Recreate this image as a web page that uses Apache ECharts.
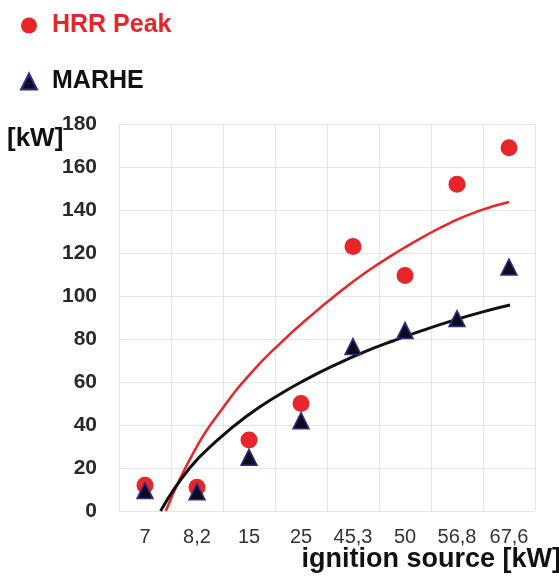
<!DOCTYPE html>
<html>
<head>
<meta charset="utf-8">
<script src="https://cdn.jsdelivr.net/npm/echarts@6/dist/echarts.min.js"></script>
<style>
  html, body { margin: 0; padding: 0; background: #ffffff; }
  #chart { width: 559px; height: 585px; }
</style>
</head>
<body>
<div id="chart"></div>
<script>
const FONT = "Liberation Sans";

// ignition source power [kW]
const categories = ["7", "8,2", "15", "25", "45,3", "50", "56,8", "67,6"];
const hrrPeak = [12, 11, 33, 50, 123, 109.5, 152, 169];
const marhe = [9.5, 9, 25, 42, 76.5, 84, 89.5, 113.5];

// trend curves, x = category position (1 = "7", 8 = "67,6")
const hrrTrendX = [1.40, 1.95, 2.50, 3.05, 3.60, 4.15, 4.70, 5.25, 5.80, 6.35, 6.90, 7.45, 8.00];
const hrrTrendY = [0, 28, 48, 64.5, 78, 90, 101, 111, 119.7, 127.5, 134.4, 139.8, 143.7];
const marheTrendX = [1.30, 1.86, 2.42, 2.98, 3.54, 4.10, 4.66, 5.22, 5.78, 6.34, 6.90, 7.46, 8.02];
const marheTrendY = [0, 20, 33.5, 44.5, 53.5, 61.2, 68, 74, 79.2, 84, 88.4, 92.4, 95.8];

const RED = "#e8262a";
const GRID = "#e3e5ef";

const chart = echarts.init(document.getElementById("chart"));

chart.setOption({
  animation: false,
  backgroundColor: "#ffffff",
  textStyle: { fontFamily: FONT },
  grid: { left: 119, right: 24, top: 124, bottom: 74 },
  legend: {
    orient: "vertical",
    left: 15,
    top: 8,
    itemGap: 31,
    itemWidth: 16,
    itemHeight: 16,
    textStyle: { fontFamily: FONT, fontSize: 25, fontWeight: "bold", padding: [0, 0, 0, 10] },
    data: [
      { name: "HRR Peak", icon: "circle", textStyle: { color: RED } },
      { name: "MARHE", icon: "triangle", textStyle: { color: "#111" } },
    ],
  },
  xAxis: [
    {
      type: "category",
      data: categories,
      boundaryGap: true,
      axisLine: { lineStyle: { color: GRID } },
      axisTick: { show: false },
      splitLine: { show: true, interval: 0, lineStyle: { color: GRID } },
      axisLabel: { fontFamily: FONT, fontSize: 20, color: "#333", margin: 16, interval: 0 },
    },
    {
      type: "value",
      min: 0.5,
      max: 8.5,
      show: false,
    },
  ],
  yAxis: {
    type: "value",
    min: 0,
    max: 180,
    interval: 20,
    axisLine: { show: true, lineStyle: { color: GRID } },
    axisTick: { show: false },
    splitLine: { lineStyle: { color: GRID } },
    axisLabel: { fontFamily: FONT, fontSize: 21, fontWeight: "bold", color: "#2a2a2a", margin: 22 },
  },
  graphic: [
    {
      type: "text",
      left: 7,
      top: 126,
      style: { text: "[kW]", font: "bold 26px " + FONT, fill: "#111" },
    },
    {
      type: "text",
      right: -2,
      top: 546,
      style: { text: "ignition source [kW]", font: "bold 27px " + FONT, fill: "#111" },
    },
  ],
  series: [
    {
      name: "HRR Peak trend",
      type: "line",
      xAxisIndex: 1,
      data: hrrTrendX.map((x, i) => [x, hrrTrendY[i]]),
      smooth: true,
      showSymbol: false,
      lineStyle: { color: RED, width: 2.5 },
      z: 2,
    },
    {
      name: "MARHE trend",
      type: "line",
      xAxisIndex: 1,
      data: marheTrendX.map((x, i) => [x, marheTrendY[i]]),
      smooth: true,
      showSymbol: false,
      lineStyle: { color: "#111", width: 3 },
      z: 2,
    },
    {
      name: "HRR Peak",
      type: "scatter",
      data: hrrPeak,
      symbol: "circle",
      symbolSize: 17,
      itemStyle: { color: RED, opacity: 1 },
      z: 3,
    },
    {
      name: "MARHE",
      type: "scatter",
      data: marhe,
      symbol: "triangle",
      symbolSize: 16,
      itemStyle: { color: "#0c0c1c", borderColor: "#2b3090", borderWidth: 1.5, opacity: 1 },
      z: 4,
    },
  ],
});
</script>
</body>
</html>
